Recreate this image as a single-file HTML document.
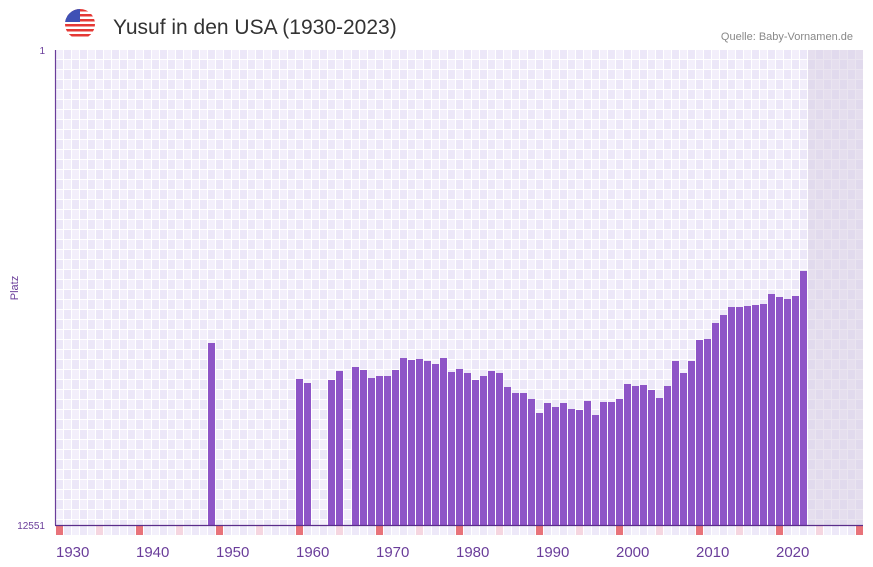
<!DOCTYPE html>
<html><head><meta charset="utf-8"><style>
html,body{margin:0;padding:0;background:#fff;width:873px;height:567px;overflow:hidden}
svg{display:block;font-family:"Liberation Sans",sans-serif}
</style></head><body>
<svg width="873" height="567" xmlns="http://www.w3.org/2000/svg">
<defs>
<pattern id="g" x="56" y="50" width="16" height="20" patternUnits="userSpaceOnUse">
<rect width="16" height="20" fill="#fff"/>
<rect x="0" y="0" width="7" height="9" fill="#f3effb"/>
<rect x="8" y="0" width="7" height="9" fill="#ece7f8"/>
<rect x="0" y="10" width="7" height="9" fill="#ece7f8"/>
<rect x="8" y="10" width="7" height="9" fill="#f3effb"/>
</pattern>
<clipPath id="fc"><circle cx="80" cy="24" r="15"/></clipPath>
</defs>
<rect x="56" y="50" width="807" height="475" fill="url(#g)"/>
<rect x="808" y="50" width="55" height="475" fill="#d8d0e4" opacity="0.55"/>
<g clip-path="url(#fc)">
<rect x="65" y="9" width="30" height="30" fill="#fff"/>
<g fill="#e53935"><rect x="65" y="9" width="30" height="2.5"/><rect x="65" y="14" width="30" height="2.5"/><rect x="65" y="19" width="30" height="2.5"/><rect x="65" y="24" width="30" height="2.5"/><rect x="65" y="29" width="30" height="2.5"/><rect x="65" y="34" width="30" height="2.5"/></g>
<rect x="65" y="9" width="15" height="13" fill="#3f51b5"/>
</g>
<text x="113" y="34" font-size="21" fill="#333">Yusuf in den USA (1930-2023)</text>
<text x="853" y="40" font-size="11" fill="#888" text-anchor="end">Quelle: Baby-Vornamen.de</text>
<text x="45" y="54" font-size="10" fill="#6a3d9a" text-anchor="end">1</text>
<text x="45" y="529" font-size="10" fill="#6a3d9a" text-anchor="end">12551</text>
<text x="18" y="288" font-size="11" fill="#6a3d9a" text-anchor="middle" transform="rotate(-90 18 288)">Platz</text>
<g fill="#8e55c7" id="bars"></g>
<g id="marks"></g>
<line x1="55.5" y1="50" x2="55.5" y2="525" stroke="#6a3d9a" stroke-width="1.2"/>
<line x1="55" y1="525.5" x2="863" y2="525.5" stroke="#5a2d8a" stroke-width="1.2"/>
<g font-size="15" fill="#6a3d9a">
<text x="56" y="557">1930</text><text x="136" y="557">1940</text><text x="216" y="557">1950</text><text x="296" y="557">1960</text><text x="376" y="557">1970</text><text x="456" y="557">1980</text><text x="536" y="557">1990</text><text x="616" y="557">2000</text><text x="696" y="557">2010</text><text x="776" y="557">2020</text>
</g>
</svg>
<script>
var t={19:343,30:379,31:383,34:380,35:371,37:367,38:370,39:378,40:376,41:376,42:370,43:358,44:360,45:359,46:361,47:364,48:358,49:372,50:369,51:373,52:380,53:376,54:371,55:373,56:387,57:393,58:393,59:399,60:413,61:403,62:407,63:403,64:409,65:410,66:401,67:415,68:402,69:402,70:399,71:384,72:386,73:385,74:390,75:398,76:386,77:361,78:373,79:361,80:340,81:339,82:323,83:315,84:307,85:307,86:306,87:305,88:304,89:294,90:297,91:299,92:296,93:271};
var ns="http://www.w3.org/2000/svg",b=document.getElementById("bars"),m=document.getElementById("marks");
for(var k in t){var r=document.createElementNS(ns,"rect");r.setAttribute("x",56+8*k);r.setAttribute("y",t[k]);r.setAttribute("width",7);r.setAttribute("height",525-t[k]);b.appendChild(r);}
for(var k=0;k<=100;k++){var r=document.createElementNS(ns,"rect");r.setAttribute("x",56+8*k);r.setAttribute("y",526);r.setAttribute("width",7);r.setAttribute("height",9);r.setAttribute("fill",k%10==0?"#e8737a":(k%5==0?"#f5d6e0":(k%2?"#ede8f8":"#f3f0fb")));m.appendChild(r);}
</script>
</body></html>
